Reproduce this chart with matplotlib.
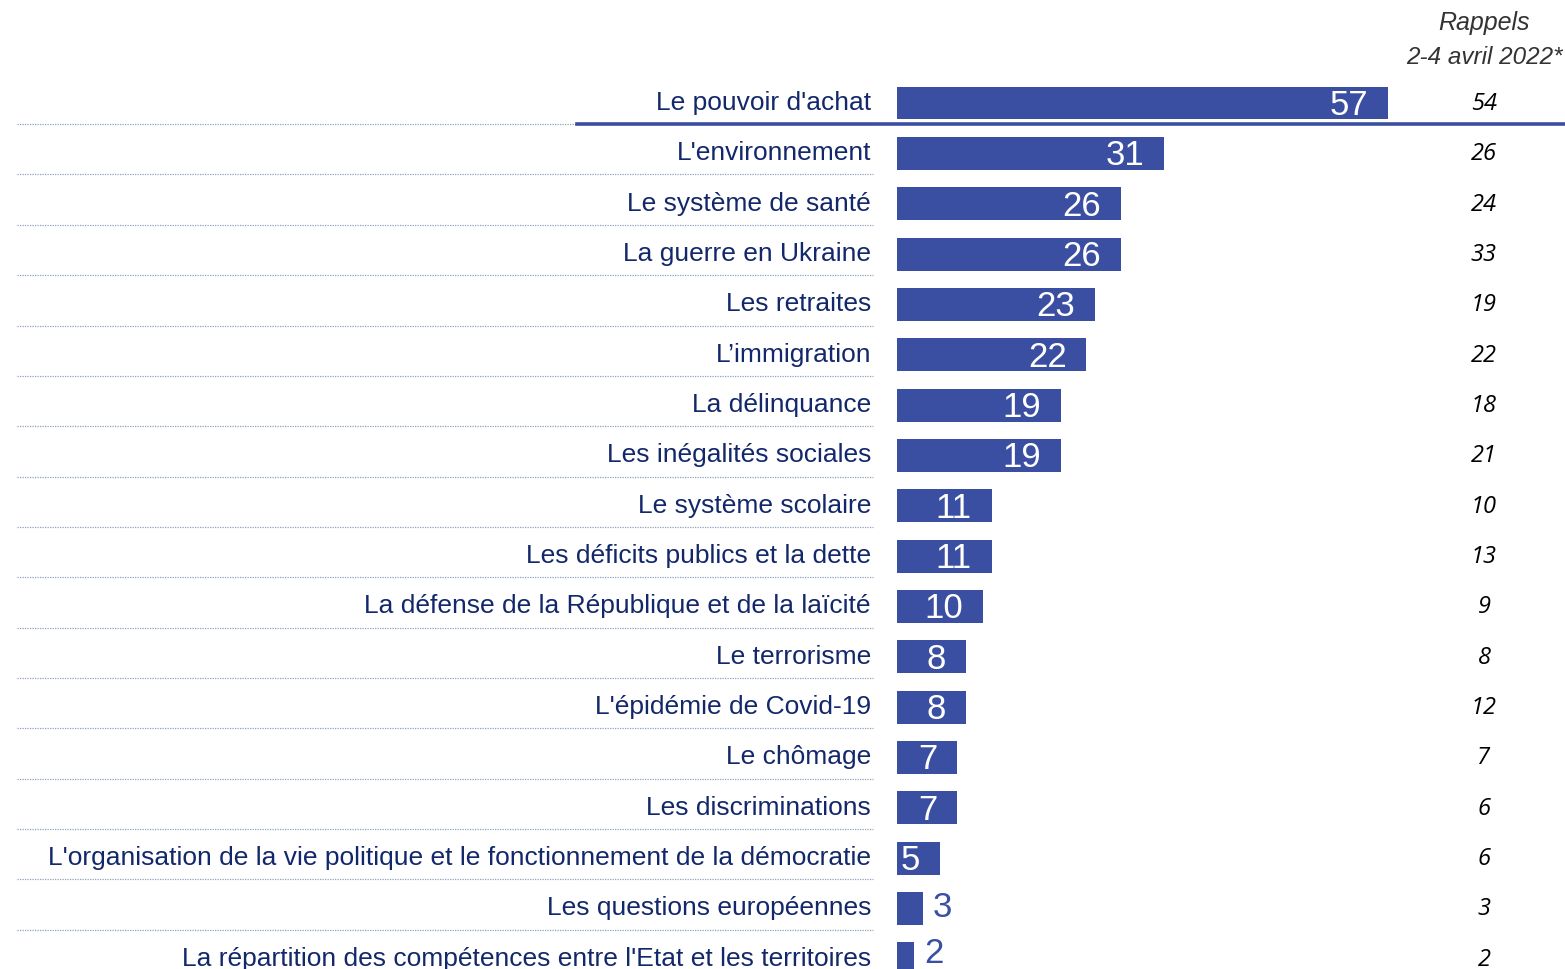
import matplotlib.pyplot as plt

# Données
themes = ["Le pouvoir d'achat", "L'environnement", "Le système de santé",
          "La guerre en Ukraine", "Les retraites", "L’immigration",
          "La délinquance", "Les inégalités sociales", "Le système scolaire",
          "Les déficits publics et la dette",
          "La défense de la République et de la laïcité", "Le terrorisme",
          "L'épidémie de Covid-19", "Le chômage", "Les discriminations",
          "L'organisation de la vie politique et le fonctionnement de la démocratie",
          "Les questions européennes",
          "La répartition des compétences entre l'Etat et les territoires"]
valeurs = [57, 31, 26, 26, 23, 22, 19, 19, 11, 11, 10, 8, 8, 7, 7, 5, 3, 2]
rappels = [54, 26, 24, 33, 19, 22, 18, 21, 10, 13, 9, 8, 12, 7, 6, 6, 3, 2]

bleu = '#3b4fa2'
marine = '#13286b'
W, H = 1565, 970
y0, pas = 104, 50.34  # centre de la 1re ligne et espacement (px)

fig = plt.figure(figsize=(W / 100, H / 100), dpi=100)
# axe des barres : de x=897 px au bord droit, sur toute la hauteur
ax = fig.add_axes([897 / W, 0, 1 - 897 / W, 1])
ax.set_xlim(0, (W - 897) / 8.61)
n = len(themes)
ax.set_ylim((H - y0) / pas, -y0 / pas)
ax.axis('off')

y = list(range(n))
ax.barh(y, valeurs, height=0.655, color=bleu)

tr = ax.get_yaxis_transform()
for i, (t, v, r) in enumerate(zip(themes, valeurs, rappels)):
    ax.text(-0.039, i - 0.02, t, transform=tr, ha='right',
            va='center', fontsize=19, color=marine, family='Liberation Sans')
    if v >= 5:
        ax.text(v - 2.3, i + 0.03, str(v), ha='right', va='center',
                fontsize=25, color='white', family='Liberation Sans')
    else:
        ax.text(v + 1.2, i - 0.03 if v == 3 else i - 0.12, str(v),
                ha='left', va='center', fontsize=25, color=bleu,
                family='Liberation Sans')
    ax.text(0.8787, i, str(r), transform=tr, ha='center',
            va='center', fontsize=17, style='italic', color='black',
            family=['Open Sans', 'DejaVu Sans'])
    # séparateurs pointillés
    if i < n - 1:
        ax.plot([-1.317, -0.036], [i + 0.42, i + 0.42], color='#8fa0bb',
                lw=0.9, ls=(0, (1, 1)), transform=tr, clip_on=False)

# trait bleu sous le premier item
ax.plot([-0.479, 1.0], [0.42, 0.42], color=bleu, lw=2.6,
        transform=tr, clip_on=False)

fig.text(1484 / W, 1 - 23 / H, "Rappels", ha='center', va='center',
         fontsize=18, style='italic', color='#333333',
         family=['Liberation Sans Narrow', 'Liberation Sans'])
fig.text(1484 / W, 1 - 58 / H, "2-4 avril 2022*", ha='center', va='center',
         fontsize=17.5, style='italic', color='#333333',
         family=['Liberation Sans Narrow', 'Liberation Sans'])

fig.savefig('out.png', dpi=100)
